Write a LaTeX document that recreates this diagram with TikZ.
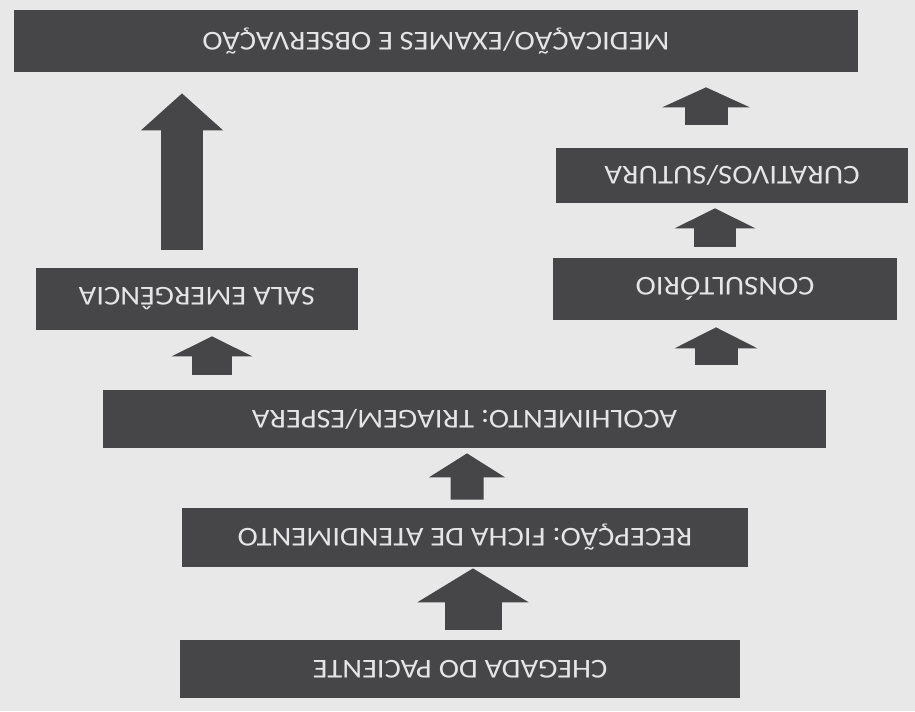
\documentclass[tikz,border=0pt]{standalone}
\usepackage{fontspec}
\setmainfont{Carlito}
\usepackage{tikz}
\usetikzlibrary{arrows.meta,calc}
\newlength\pixel
\setlength\pixel{0.02cm}
\definecolor{boxgray}{RGB}{70,70,72}
\definecolor{paper}{RGB}{232,232,232}
\newcommand{\virado}[1]{\rotatebox[origin=c]{180}{\scalebox{1.12}[1]{#1}}}
\tikzstyle{etapa}=[rectangle,fill=boxgray,text=white!90!black,inner sep=0pt,font=\fontsize{15.5}{18}\selectfont]
\tikzset{seta/.style n args={3}{draw=boxgray,line width=#1,-{Triangle[width=#2,length=#3]}}}

\begin{document}
\begin{tikzpicture}[x=0.02cm,y=0.02cm]
	\fill[paper] (0,0) rectangle (915,711);

	\node[etapa, minimum width=844\pixel, minimum height=62\pixel] at (436, 670) (medic) {\virado{MEDICAÇÃO/EXAMES E OBSERVAÇÃO}};
	\node[etapa, minimum width=352\pixel, minimum height=55\pixel] at (732, 535.5) (curat) {\virado{CURATIVOS/SUTURA}};
	\node[etapa, minimum width=344\pixel, minimum height=62\pixel] at (725, 422) (consult) {\virado{CONSULTÓRIO}};
	\node[etapa, minimum width=322\pixel, minimum height=62\pixel] at (197, 412) (sala) {\virado{SALA EMERGÊNCIA}};
	\node[etapa, minimum width=723\pixel, minimum height=58\pixel] at (464.5, 292) (acolh) {\virado{ACOLHIMENTO: TRIAGEM/ESPERA}};
	\node[etapa, minimum width=566\pixel, minimum height=59\pixel] at (465, 173.5) (recep) {\virado{RECEPÇÃO: FICHA DE ATENDIMENTO}};
	\node[etapa, minimum width=560\pixel, minimum height=58\pixel] at (460, 42) (cheg) {\virado{CHEGADA DO PACIENTE}};

	\draw[seta={1.14cm}{2.2cm}{0.68cm}] ($(cheg.north)+(13,10)$) -- ($(recep.south)+(8,-1)$);
	\draw[seta={0.66cm}{1.5cm}{0.48cm}] ($(recep.north)+(2,8)$) -- ($(acolh.south)+(2.5,-5)$);
	\draw[seta={0.8cm}{1.6cm}{0.4cm}] ($(acolh.north -| sala.south)+(15,15)$) -- ($(sala.south)+(15,-6)$);
	\draw[seta={0.86cm}{1.64cm}{0.42cm}] ($(acolh.north -| consult.south)+(-9,25)$) -- ($(consult.south)+(-9,-7)$);
	\draw[seta={0.84cm}{1.6cm}{0.4cm}] ($(consult.north)+(-10,11)$) -- ($(curat.south)+(-17,-5)$);
	\draw[seta={0.86cm}{1.74cm}{0.4cm}] ($(curat.north)+(-26,23)$) -- ($(medic.south -| curat.north)+(-26,-15)$);
	\draw[seta={0.84cm}{1.6cm}{0.74cm}] ($(sala.north)+(-15,18)$) -- ($(medic.south -| sala.north)+(-15,-21)$);
\end{tikzpicture}
\end{document}
